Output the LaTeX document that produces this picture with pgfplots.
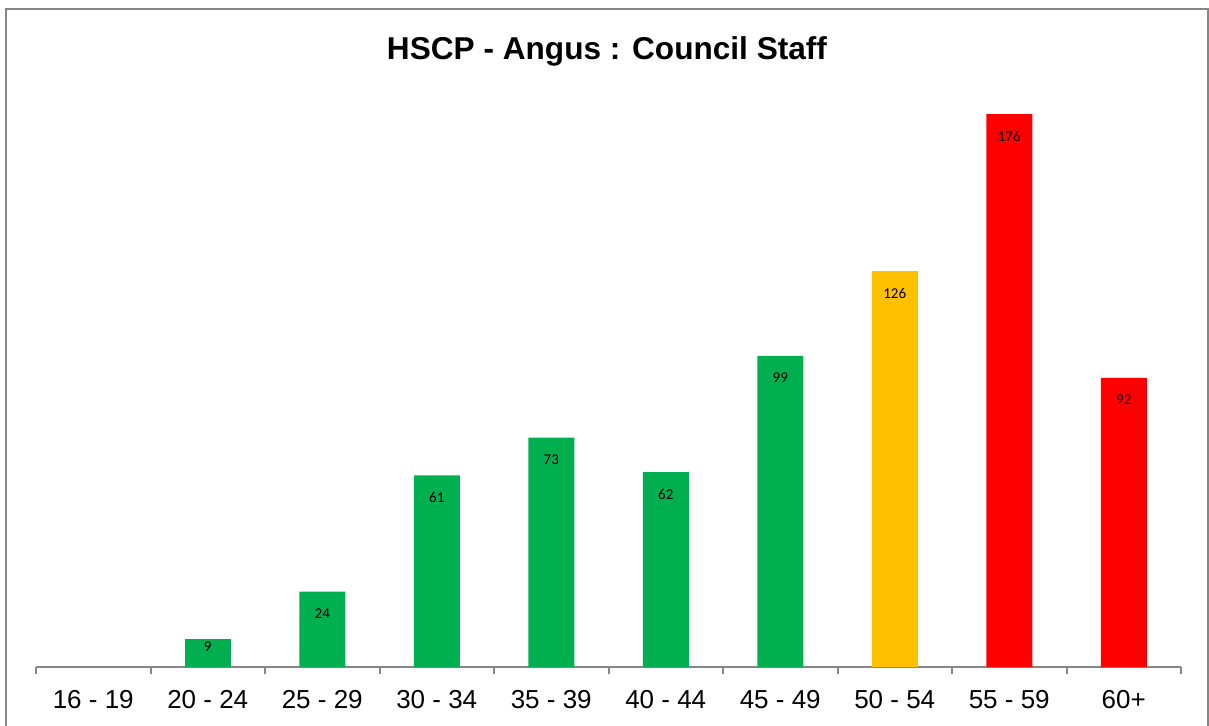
\documentclass[border=0pt]{standalone}
\usepackage{pgfplots}
\pgfplotsset{compat=1.18}
\usepackage{fontspec}
\setmainfont{Liberation Sans}
\newfontfamily\calibri{Carlito}
\newlength\px \setlength\px{0.5pt}
\definecolor{xgreen}{HTML}{00B050}
\definecolor{xorange}{HTML}{FFC000}
\definecolor{xred}{HTML}{FF0000}
\definecolor{xgray}{HTML}{868686}
\begin{document}
\begin{tikzpicture}[x=1\px,y=1\px]
\useasboundingbox (0,0) rectangle (1209,725);
\draw[xgray, line width=2\px] (6,-2) -- (6,716) -- (1208,716) -- (1208,-2);
\node[font=\bfseries\fontsize{15.8}{19}\selectfont] at (607,674) {HSCP - Angus : Council Staff};
\begin{axis}[
  at={(36\px,58\px)}, anchor=south west,
  scale only axis, width=1145\px, height=628.4\px,
  xmin=-0.5, xmax=9.5, ymin=0, ymax=200,
  axis y line=none, axis x line*=bottom,
  axis line style={xgray, line width=1pt},
  xtick={0,...,9},
  xticklabels={16 - 19,20 - 24,25 - 29,30 - 34,35 - 39,40 - 44,45 - 49,50 - 54,55 - 59,60+},
  major tick length=0pt,
  xticklabel style={font=\fontsize{13}{15}\selectfont, yshift=-16\px},
  extra x ticks={-0.5,0.5,...,9.5},
  extra x tick labels={},
  extra x tick style={major tick length=7\px, tick align=outside, tick style={xgray, line width=1pt}},
  ybar, bar width=46\px, bar shift=0pt,
  /pgf/number format/assume math mode=true,
  nodes near coords,
  every node near coord/.append style={font=\calibri\fontsize{7.5}{9}\selectfont, anchor=center, yshift=-22\px},
  clip=false,
]
\addplot[draw=none, fill=xgreen, every node near coord/.append style={yshift=14\px}] coordinates {(1,9)};
\addplot[draw=none, fill=xgreen] coordinates {(2,24) (3,61) (4,73) (5,62) (6,99)};
\addplot[draw=none, fill=xorange] coordinates {(7,126)};
\addplot[draw=none, fill=xred] coordinates {(8,176) (9,92)};
\end{axis}
\end{tikzpicture}
\end{document}
